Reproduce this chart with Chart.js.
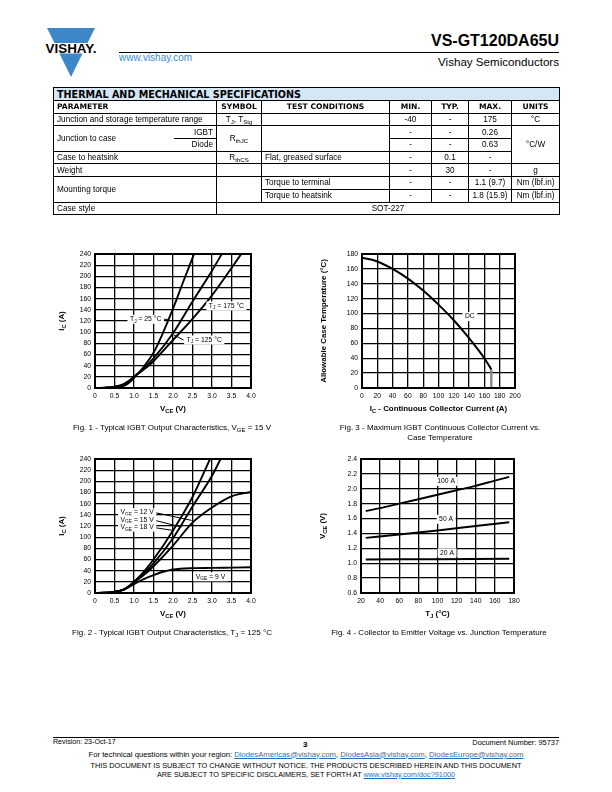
<!DOCTYPE html>
<html>
<head>
<meta charset="utf-8">
<script src="https://cdn.jsdelivr.net/npm/chart.js@4.4.0/dist/chart.umd.min.js"></script>
<style>
body { margin: 0; background: #fff; }
#page { position: relative; width: 612px; height: 792px; overflow: hidden; color: #000;
        font-family: "Liberation Sans", Arial, sans-serif; }
.abs { position: absolute; white-space: nowrap; }
canvas { position: absolute; }
.cap { position: absolute; width: 300px; text-align: center; font-size: 8px; line-height: 9.5px; }
sub { font-size: 75%; vertical-align: -2px; line-height: 0; }
a { color: #1f6fc1; text-decoration: underline; }
table.spec { position: absolute; left: 53px; top: 87px; width: 506px; border-collapse: collapse;
             table-layout: fixed; font-size: 8.2px; color: #000; }
table.spec td { border: 1px solid #000; padding: 0 3px; height: 11.7px; line-height: 9px; vertical-align: middle;
                overflow: hidden; white-space: nowrap; }
table.spec tr:not(.title) td { filter: grayscale(1); }
table.spec tr.title td { background: #d5e6f5; font-family: "DejaVu Sans", sans-serif; font-weight: bold;
                         font-size: 9.6px; height: 12px; }
table.spec tr.head td { font-family: "DejaVu Sans", sans-serif; font-weight: bold; font-size: 7.6px; text-align: center; }
.c { text-align: center; }
.r { text-align: right; }
.nr { border-right-style: hidden !important; }
.nl { border-left-style: hidden !important; }
.foot { font-size: 7.7px; }
</style>
</head>
<body>
<div id="page">

<svg class="abs" width="54" height="52" style="left:44px;top:27px">
  <polygon points="3,1 51,1 43.5,16 10.5,16" fill="#3d86c8"/>
  <polygon points="15.5,26.5 38.5,26.5 27,50" fill="#3d86c8"/>
  <text x="27" y="25.5" text-anchor="middle" font-family="Liberation Sans" font-weight="bold"
        font-size="12.5" textLength="51" lengthAdjust="spacingAndGlyphs">VISHAY.</text>
</svg>
<div class="abs" style="left:119px;top:52px;font-size:10px;color:#3b8ad6">www.vishay.com</div>
<div class="abs" style="right:53px;top:32px;font-size:16px;font-weight:bold">VS-GT120DA65U</div>
<div class="abs" style="left:119px;top:51.5px;width:440px;height:1px;background:#000"></div>
<div class="abs" style="right:53px;top:55px;font-size:11.6px">Vishay Semiconductors</div>

<table class="spec">
  <colgroup>
    <col style="width:120px"><col style="width:43px"><col style="width:45px"><col style="width:128px">
    <col style="width:42px"><col style="width:37px"><col style="width:43px"><col style="width:48px">
  </colgroup>
  <tr class="title"><td colspan="8">THERMAL AND MECHANICAL SPECIFICATIONS</td></tr>
  <tr class="head"><td colspan="2" style="text-align:left">PARAMETER</td><td>SYMBOL</td><td>TEST CONDITIONS</td>
      <td>MIN.</td><td>TYP.</td><td>MAX.</td><td>UNITS</td></tr>
  <tr><td colspan="2">Junction and storage temperature range</td><td class="c">T<sub>J</sub>, T<sub>Stg</sub></td><td></td>
      <td class="c">-40</td><td class="c">-</td><td class="c">175</td><td class="c">°C</td></tr>
  <tr><td rowspan="2" class="nr">Junction to case</td><td class="r nl">IGBT</td><td rowspan="2" class="c">R<sub>thJC</sub></td>
      <td rowspan="2"></td><td class="c">-</td><td class="c">-</td><td class="c">0.26</td><td rowspan="3" class="c">°C/W</td></tr>
  <tr><td class="r nl">Diode</td><td class="c">-</td><td class="c">-</td><td class="c">0.63</td></tr>
  <tr><td colspan="2">Case to heatsink</td><td class="c">R<sub>thCS</sub></td><td>Flat, greased surface</td>
      <td class="c">-</td><td class="c">0.1</td><td class="c">-</td></tr>
  <tr><td colspan="2">Weight</td><td></td><td></td><td class="c">-</td><td class="c">30</td><td class="c">-</td><td class="c">g</td></tr>
  <tr><td colspan="2" rowspan="2">Mounting torque</td><td rowspan="2"></td><td>Torque to terminal</td>
      <td class="c">-</td><td class="c">-</td><td class="c">1.1 (9.7)</td><td class="c">Nm (lbf.in)</td></tr>
  <tr><td>Torque to heatsink</td><td class="c">-</td><td class="c">-</td><td class="c">1.8 (15.9)</td><td class="c">Nm (lbf.in)</td></tr>
  <tr><td colspan="2">Case style</td><td colspan="6" class="c">SOT-227</td></tr>
</table>

<canvas id="fig1" width="230" height="180" style="left:40px;top:245px"></canvas>
<canvas id="fig3" width="240" height="180" style="left:300px;top:245px"></canvas>
<canvas id="fig2" width="230" height="180" style="left:40px;top:450px"></canvas>
<canvas id="fig4" width="240" height="180" style="left:300px;top:450px"></canvas>

<div class="cap" style="left:22px;top:423px">Fig. 1 - Typical IGBT Output Characteristics, V<sub>GE</sub> = 15 V</div>
<div class="cap" style="left:290px;top:423px">Fig. 3 - Maximum IGBT Continuous Collector Current vs.<br>Case Temperature</div>
<div class="cap" style="left:22px;top:628px">Fig. 2 - Typical IGBT Output Characteristics, T<sub>J</sub> = 125 °C</div>
<div class="cap" style="left:289px;top:628px">Fig. 4 - Collector to Emitter Voltage vs. Junction Temperature</div>

<div class="abs" style="left:53px;top:736.5px;width:506px;height:1px;background:#000"></div>
<div class="abs" style="left:53px;top:738px;font-size:7.1px">Revision: 23-Oct-17</div>
<div class="abs" style="left:303px;top:739.5px;font-size:8px;font-weight:bold">3</div>
<div class="abs" style="right:53px;top:738px;font-size:7.4px">Document Number: 95737</div>
<div class="abs foot" style="left:0;width:612px;top:749.5px;text-align:center">For technical questions within your region:
  <a>DiodesAmericas@vishay.com</a>, <a>DiodesAsia@vishay.com</a>, <a>DiodesEurope@vishay.com</a></div>
<div class="abs" style="left:0;width:612px;top:762px;font-size:7.3px;text-align:center;line-height:8.5px">THIS DOCUMENT IS SUBJECT TO CHANGE WITHOUT NOTICE. THE PRODUCTS DESCRIBED HEREIN AND THIS DOCUMENT<br>ARE SUBJECT TO SPECIFIC DISCLAIMERS, SET FORTH AT <a>www.vishay.com/doc?91000</a></div>

</div>
<script>
// Fig. 1 - IC vs VCE at VGE = 15 V, three junction temperatures
var fig1Vce25 = [0, 0.25, 0.5, 0.7, 0.85, 1.0, 1.25, 1.5, 1.75, 2.0, 2.25, 2.54];
var fig1Ic25 = [0, 0.3, 1, 3, 8, 18, 38, 63, 100, 142, 188, 240];
var fig1Vce125 = [0, 0.25, 0.5, 0.7, 0.85, 1.0, 1.25, 1.5, 2.0, 2.5, 3.0, 3.25];
var fig1Ic125 = [0, 0.5, 2, 5, 11, 20, 35, 53, 98, 155, 210, 240];
var fig1Vce175 = [0, 0.25, 0.5, 0.7, 0.85, 1.0, 1.25, 1.5, 2.0, 2.5, 3.0, 3.5, 3.75];
var fig1Ic175 = [0, 0.7, 2.5, 6, 12, 20, 33, 48, 86, 124, 166, 215, 240];
var fig1XTicks = ['0', '0.5', '1.0', '1.5', '2.0', '2.5', '3.0', '3.5', '4.0'];
var fig1YTicks = ['0', '20', '40', '60', '80', '100', '120', '140', '160', '180', '200', '220', '240'];

// Fig. 2 - IC vs VCE at TJ = 125 °C, four gate voltages
var fig2Vce18 = [0, 0.25, 0.5, 0.7, 0.85, 1.0, 1.25, 1.5, 2.0, 2.5, 2.95];
var fig2Ic18 = [0, 0.5, 2, 5, 11, 20, 38, 60, 112, 172, 240];
var fig2Vce15 = [0, 0.25, 0.5, 0.7, 0.85, 1.0, 1.25, 1.5, 2.0, 2.5, 3.0, 3.22];
var fig2Ic15 = [0, 0.5, 2, 5, 11, 20, 35, 53, 98, 155, 210, 240];
var fig2Vce12 = [0, 0.25, 0.5, 0.7, 0.85, 1.0, 1.25, 1.5, 2.0, 2.5, 3.0, 3.5, 4.0];
var fig2Ic12 = [0, 0.5, 2, 5, 11, 19, 32, 48, 85, 126, 153, 173, 181];
var fig2Vce9 = [0, 0.25, 0.5, 0.7, 0.85, 1.0, 1.25, 1.5, 1.75, 2.0, 2.5, 3.0, 3.5, 4.0];
var fig2Ic9 = [0, 0.5, 2, 5, 10, 16, 25, 32, 38, 42, 44.5, 45, 45.5, 46];
var fig2XTicks = ['0', '0.5', '1.0', '1.5', '2.0', '2.5', '3.0', '3.5', '4.0'];
var fig2YTicks = ['0', '20', '40', '60', '80', '100', '120', '140', '160', '180', '200', '220', '240'];

// Fig. 3 - allowable case temperature vs continuous current
var fig3Ic = [0, 20, 40, 60, 80, 100, 120, 140, 160, 169];
var fig3Tc = [175, 170, 160, 147, 131, 112, 91, 67, 40, 25];
var fig3LimitIc = [169, 169];
var fig3LimitTc = [25, 0];
var fig3XTicks = ['0', '20', '40', '60', '80', '100', '120', '140', '160', '180', '200'];
var fig3YTicks = ['0', '20', '40', '60', '80', '100', '120', '140', '160', '180'];

// Fig. 4 - VCE vs junction temperature
var fig4Tj100 = [25, 40, 60, 80, 100, 120, 140, 160, 175];
var fig4Vce100 = [1.70, 1.74, 1.80, 1.86, 1.92, 1.98, 2.04, 2.11, 2.16];
var fig4Tj50 = [25, 60, 100, 140, 175];
var fig4Vce50 = [1.34, 1.385, 1.44, 1.50, 1.55];
var fig4Tj20 = [25, 100, 175];
var fig4Vce20 = [1.05, 1.055, 1.06];
var fig4XTicks = ['20', '40', '60', '80', '100', '120', '140', '160', '180'];
var fig4YTicks = ['0.6', '0.8', '1.0', '1.2', '1.4', '1.6', '1.8', '2.0', '2.2', '2.4'];

var FONT = '"Liberation Sans", Arial, sans-serif';

function pts(xs, ys) {
    return xs.map(function (x, i) { return { x: x, y: ys[i] }; });
}

function setFont(ctx, size, bold) {
    ctx.font = (bold ? 'bold ' : '') + size + 'px ' + FONT;
}

// parts starting with "_" are drawn as subscript
function richWidth(ctx, parts, size, bold) {
    var w = 0;
    parts.forEach(function (p) {
        var sub = p[0] === '_';
        setFont(ctx, sub ? size * 0.72 : size, bold);
        w += ctx.measureText(sub ? p.slice(1) : p).width;
    });
    return w;
}

function drawRich(ctx, parts, cx, cy, size, bold) {
    var x = cx - richWidth(ctx, parts, size, bold) / 2;
    ctx.textAlign = 'left';
    ctx.textBaseline = 'middle';
    parts.forEach(function (p) {
        var sub = p[0] === '_';
        var t = sub ? p.slice(1) : p;
        setFont(ctx, sub ? size * 0.72 : size, bold);
        ctx.fillText(t, x, cy + (sub ? size * 0.3 : 0));
        x += ctx.measureText(t).width;
    });
}

var sheetPlugin = {
    id: 'sheet',
    afterDatasetsDraw: function (chart, args, opts) {
        var ctx = chart.ctx, xs = chart.scales.x, ys = chart.scales.y;
        ctx.save();
        (opts.notes || []).forEach(function (n) {
            var px = xs.getPixelForValue(n.x), py = ys.getPixelForValue(n.y);
            var w = richWidth(ctx, n.text, 6.8, false);
            ctx.fillStyle = '#fff';
            ctx.fillRect(px - w / 2 - 2.5, py - 4.5, w + 5, 9);
            ctx.fillStyle = '#000';
            drawRich(ctx, n.text, px, py, 6.8, false);
        });
        ctx.restore();
    },
    afterDraw: function (chart, args, opts) {
        var ctx = chart.ctx, a = chart.chartArea;
        ctx.save();
        ctx.strokeStyle = '#000';
        ctx.lineWidth = 2;
        ctx.strokeRect(a.left, a.top, a.right - a.left, a.bottom - a.top);
        ctx.fillStyle = '#000';
        drawRich(ctx, opts.xTitle, (a.left + a.right) / 2, a.bottom + 21, 7.9, true);
        ctx.translate(a.left - opts.yGap, (a.top + a.bottom) / 2);
        ctx.rotate(-Math.PI / 2);
        drawRich(ctx, opts.yTitle, 0, 0, 7.9, true);
        ctx.restore();
    }
};

function curve(xs, ys, width, color) {
    return {
        data: pts(xs, ys),
        borderColor: color || '#000',
        borderWidth: width || 1.9,
        pointRadius: 0,
        cubicInterpolationMode: 'monotone',
        fill: false
    };
}

function axis(labels, fitKey, fitSize) {
    var values = labels.map(Number);
    var a = {
        type: 'linear',
        min: values[0],
        max: values[values.length - 1],
        afterBuildTicks: function (s) { s.ticks = values.map(function (v) { return { value: v }; }); },
        ticks: {
            autoSkip: false,
            maxRotation: 0,
            padding: 4,
            color: '#000',
            font: { family: FONT, size: 6.8 },
            callback: function (v, i) { return labels[i]; }
        },
        grid: { color: '#000', lineWidth: 1.3, drawTicks: false },
        border: { color: '#000', width: 2 }
    };
    a.afterFit = function (s) { s[fitKey] = fitSize; };
    return a;
}

function makeChart(id, datasets, xLabels, yLabels, yWidth, rightPad, sheet) {
    return new Chart(document.getElementById(id), {
        type: 'line',
        data: { datasets: datasets },
        options: {
            responsive: false,
            animation: false,
            events: [],
            layout: { padding: { left: 0, right: rightPad, top: 9, bottom: 0 } },
            plugins: { legend: { display: false }, tooltip: { enabled: false }, sheet: sheet },
            scales: {
                x: axis(xLabels, 'height', 37),
                y: axis(yLabels, 'width', yWidth)
            }
        },
        plugins: [sheetPlugin]
    });
}

makeChart('fig1', [
    curve(fig1Vce25, fig1Ic25),
    curve(fig1Vce125, fig1Ic125),
    curve(fig1Vce175, fig1Ic175),
    curve([1.76, 1.88], [123, 123], 1),
    curve([2.27, 2.02], [86, 95], 1)
], fig1XTicks, fig1YTicks, 55, 19, {
    xTitle: ['V', '_CE', ' (V)'], yTitle: ['I', '_C', ' (A)'], yGap: 33,
    notes: [
        { x: 1.3, y: 123, text: ['T', '_J', ' = 25 °C'] },
        { x: 3.37, y: 147, text: ['T', '_J', ' = 175 °C'] },
        { x: 2.8, y: 86, text: ['T', '_J', ' = 125 °C'] }
    ]
});

makeChart('fig2', [
    curve(fig2Vce18, fig2Ic18),
    curve(fig2Vce15, fig2Ic15),
    curve(fig2Vce12, fig2Ic12),
    curve(fig2Vce9, fig2Ic9),
    curve([1.54, 2.48], [144, 130], 1),
    curve([1.54, 2.22], [130, 118], 1),
    curve([1.54, 2.01], [117, 112], 1)
], fig2XTicks, fig2YTicks, 55, 19, {
    xTitle: ['V', '_CE', ' (V)'], yTitle: ['I', '_C', ' (A)'], yGap: 33,
    notes: [
        { x: 1.08, y: 144, text: ['V', '_GE', ' = 12 V'] },
        { x: 1.08, y: 131, text: ['V', '_GE', ' = 15 V'] },
        { x: 1.08, y: 118, text: ['V', '_GE', ' = 18 V'] },
        { x: 2.96, y: 29, text: ['V', '_GE', ' = 9 V'] }
    ]
});

makeChart('fig3', [
    curve(fig3Ic, fig3Tc, 2),
    curve(fig3LimitIc, fig3LimitTc, 2.4, '#888')
], fig3XTicks, fig3YTicks, 62, 25, {
    xTitle: ['I', '_C', ' - Continuous Collector Current (A)'],
    yTitle: ['Allowable Case Temperature (°C)'], yGap: 38,
    notes: [{ x: 141, y: 96, text: ['DC'] }]
});

makeChart('fig4', [
    curve(fig4Tj100, fig4Vce100),
    curve(fig4Tj50, fig4Vce50),
    curve(fig4Tj20, fig4Vce20, 2)
], fig4XTicks, fig4YTicks, 61, 26, {
    xTitle: ['T', '_J', ' (°C)'], yTitle: ['V', '_CE', ' (V)'], yGap: 38,
    notes: [
        { x: 109, y: 2.10, text: ['100 A'] },
        { x: 109, y: 1.59, text: ['50 A'] },
        { x: 110, y: 1.14, text: ['20 A'] }
    ]
});
</script>
</body>
</html>
